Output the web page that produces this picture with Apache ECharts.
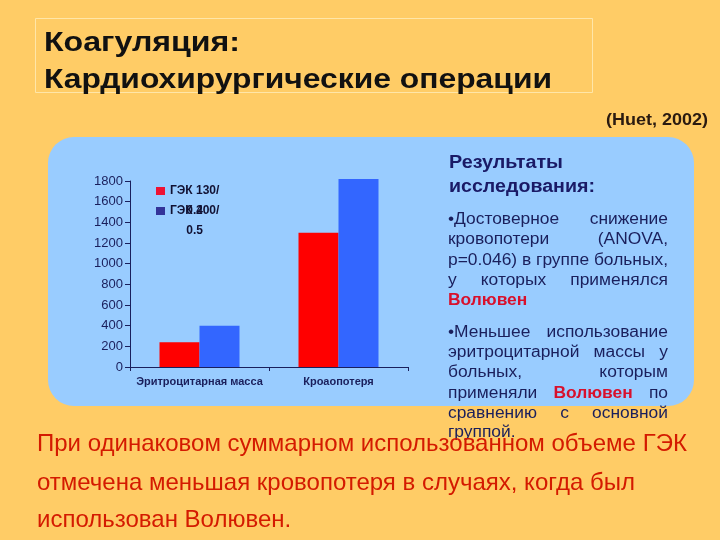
<!DOCTYPE html>
<html>
<head>
<meta charset="utf-8">
<script src="https://cdn.jsdelivr.net/npm/echarts@6/dist/echarts.min.js"></script>
<style>
  html, body { margin: 0; padding: 0; background: #ffcc66; }
  #main { width: 720px; height: 540px; }
</style>
</head>
<body>
<div id="main"></div>
<script>
// data
const categories = ['Эритроцитарная масса', 'Кроаопотеря']
const seriesNames = ['ГЭК 130/0.4', 'ГЭК 200/0.5']
const hes130 = [240, 1300]
const hes200 = [400, 1820]
const yTicks = { min: 0, max: 1800, interval: 200 }

const NAVY = '#1a1f5c'
const FONT = '"Liberation Sans", Arial, sans-serif'

const chart = echarts.init(document.getElementById('main'))

// the slide text is a bit stretched sideways, so measure and scale it
const measureCtx = document.createElement('canvas').getContext('2d')
const measure = (text, size, weight) => {
  measureCtx.font = `${weight} ${size}px ${FONT}`
  return measureCtx.measureText(text).width
}

// text fitted to a width
const fitText = (text, x, y, size, weight, fill, width, align) => ({
  type: 'text',
  x: x,
  y: y,
  scaleX: width / measure(text, size, weight),
  style: {
    text: text,
    font: `${weight} ${size}px ${FONT}`,
    fill: fill,
    textAlign: align || 'left',
    textVerticalAlign: 'middle'
  }
})

const BODY = 16
const plain = { fill: NAVY, weight: 'normal' }
const red = { fill: '#d8102c', weight: 'bold' }

const textLeft = 448
const textRight = 668
// "р=0.046) в группе больных," fills the column with ordinary spaces
const bodyScale = (textRight - textLeft) / measure('р=0.046) в группе больных,', BODY, 'normal')

const paragraph = [
  { y: 220, j: true, w: [['•Достоверное', plain], ['снижение', plain]] },
  { y: 240, j: true, w: [['кровопотери', plain], ['(ANOVA,', plain]] },
  { y: 261, j: true, w: [['р=0.046)', plain], ['в', plain], ['группе', plain], ['больных,', plain]] },
  { y: 281, j: true, w: [['у', plain], ['которых', plain], ['применялся', plain]] },
  { y: 301, j: false, w: [['Волювен', red]] },
  { y: 333, j: true, w: [['•Меньшее', plain], ['использование', plain]] },
  { y: 353, j: true, w: [['эритроцитарной', plain], ['массы', plain], ['у', plain]] },
  { y: 373, j: true, w: [['больных,', plain], ['которым', plain]] },
  { y: 394, j: true, w: [['применяли', plain], ['Волювен', red], ['по', plain]] },
  { y: 414, j: true, w: [['сравнению', plain], ['с', plain], ['основной', plain]] },
  { y: 433, j: false, w: [['группой.', plain]] }
]

const paraElements = []
paragraph.forEach(line => {
  const widths = line.w.map(([t, s]) => measure(t, BODY, s.weight) * bodyScale)
  const total = widths.reduce((a, b) => a + b, 0)
  const gap = line.j && line.w.length > 1
    ? (textRight - textLeft - total) / (line.w.length - 1)
    : measure(' ', BODY, 'normal') * bodyScale
  let x = textLeft
  line.w.forEach(([t, s], i) => {
    paraElements.push({
      type: 'text',
      x: x,
      y: line.y,
      scaleX: bodyScale,
      style: {
        text: t,
        fill: s.fill,
        font: `${s.weight} ${BODY}px ${FONT}`,
        textVerticalAlign: 'middle',
        textAlign: 'left'
      }
    })
    x += widths[i] + gap
  })
})

// one legend per series so the two-line names overlap like on the slide
const legendRich = {
  a: { fontFamily: FONT, fontSize: 12, fontWeight: 'bold', color: '#111133', lineHeight: 20 },
  b: { fontFamily: FONT, fontSize: 12, fontWeight: 'bold', color: '#111133', lineHeight: 20, align: 'center' }
}
const legendFor = (name, color, top) => ({
  orient: 'vertical',
  left: 151,
  top: top,
  itemWidth: 9,
  itemHeight: 8,
  icon: 'rect',
  data: [{ name: name, itemStyle: { color: color } }],
  formatter: n => {
    const parts = n.split('/')
    return `{a|${parts[0]}/}\n{b|${parts[1]}}`
  },
  textStyle: { padding: [20, 0, 0, 0], rich: legendRich }
})

const option = {
  backgroundColor: '#ffcc66',
  animation: false,
  grid: { left: 130, top: 181, width: 278, height: 186 },
  legend: [
    legendFor(seriesNames[0], '#ee1133', 180),
    legendFor(seriesNames[1], '#333399', 200)
  ],
  xAxis: {
    type: 'category',
    data: categories,
    axisLine: { lineStyle: { color: NAVY, width: 1 } },
    axisTick: { show: true, length: 4, lineStyle: { color: NAVY } },
    axisLabel: { interval: 0, color: NAVY, fontFamily: FONT, fontSize: 11, fontWeight: 'bold', margin: 9 }
  },
  yAxis: {
    type: 'value',
    min: yTicks.min,
    max: yTicks.max,
    interval: yTicks.interval,
    splitLine: { show: false },
    axisLine: { show: true, lineStyle: { color: NAVY, width: 1 } },
    axisTick: { show: true, length: 5, lineStyle: { color: NAVY } },
    axisLabel: { color: NAVY, fontFamily: FONT, fontSize: 13, margin: 7, formatter: v => String(v) }
  },
  series: [
    {
      name: seriesNames[0],
      type: 'bar',
      data: hes130,
      barWidth: 40,
      barGap: '0%',
      clip: false,
      itemStyle: { color: '#ff0000' }
    },
    {
      name: seriesNames[1],
      type: 'bar',
      data: hes200,
      barWidth: 40,
      barGap: '0%',
      clip: false,
      itemStyle: { color: '#3366ff' }
    }
  ],
  graphic: [
    {
      type: 'rect',
      z: -10,
      shape: { x: 48, y: 137, width: 646, height: 269, r: 26 },
      style: { fill: '#99ccff' }
    },
    {
      type: 'rect',
      z: -5,
      shape: { x: 35.5, y: 18.5, width: 557, height: 74 },
      style: { fill: 'none', stroke: '#ffe6a8', lineWidth: 1 }
    },
    fitText('Коагуляция:', 44, 43, 28, 'bold', '#111', 196),
    fitText('Кардиохирургические операции', 44, 80, 28, 'bold', '#111', 508),
    fitText('(Huet, 2002)', 708, 120, 17, 'bold', '#2a1a10', 102, 'right'),
    fitText('Результаты', 449, 163, 18, 'bold', '#1a1a66', 114),
    fitText('исследования:', 449, 187, 18, 'bold', '#1a1a66', 146),
    ...paraElements,
    {
      type: 'text', x: 37, y: 444,
      style: { text: 'При одинаковом суммарном использованном объеме ГЭК', font: `24px ${FONT}`, fill: '#d41a00', textVerticalAlign: 'middle' }
    },
    {
      type: 'text', x: 37, y: 483,
      style: { text: 'отмечена меньшая кровопотеря в случаях, когда был', font: `24px ${FONT}`, fill: '#d41a00', textVerticalAlign: 'middle' }
    },
    {
      type: 'text', x: 37, y: 520,
      style: { text: 'использован Волювен.', font: `24px ${FONT}`, fill: '#d41a00', textVerticalAlign: 'middle' }
    }
  ]
}

chart.setOption(option)
</script>
</body>
</html>
